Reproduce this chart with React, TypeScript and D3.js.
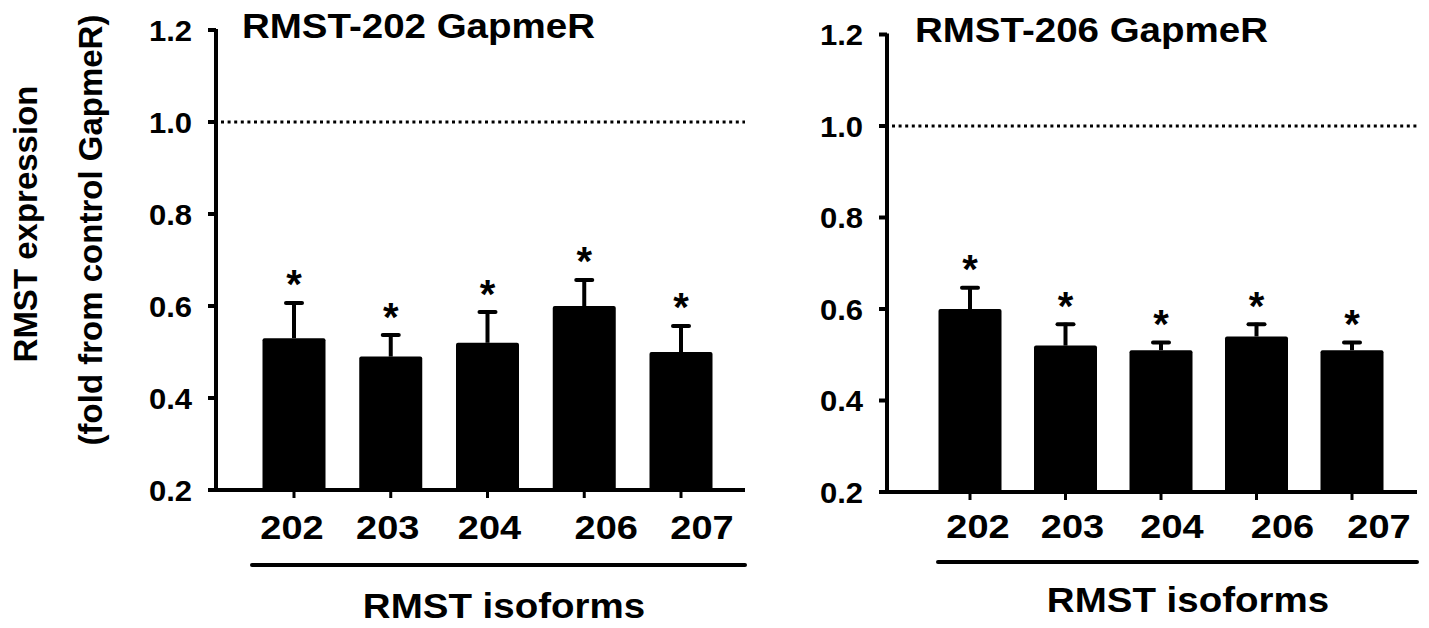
import * as d3 from "d3";

const CATEGORIES = ["202", "203", "204", "206", "207"];
const Y_TICKS = [0.2, 0.4, 0.6, 0.8, 1.0, 1.2];
const REFERENCE_LEVEL = 1.0;

// RMST-202 GapmeR knockdown
const KD202_MEAN = [0.53, 0.49, 0.52, 0.6, 0.5];
const KD202_SEM = [0.08, 0.05, 0.07, 0.06, 0.06];

// RMST-206 GapmeR knockdown
const KD206_MEAN = [0.6, 0.52, 0.51, 0.54, 0.51];
const KD206_SEM = [0.05, 0.05, 0.02, 0.03, 0.02];

const WIDTH = 1429;
const HEIGHT = 628;
const FONT = "'Liberation Sans', Arial, Helvetica, sans-serif";
const BAR_W = 63;

type Layout = {
    axisX: number;
    yTop: number;
    yBottom: number;
    firstTick: number;
    lastTick: number;
    xEnd: number;
    underline: { x1: number; x2: number; y: number };
    labelNudge: number[];
    labelY: number;
    xTitle: { x: number; y: number };
    title: { x: number; y: number };
};

const LEFT: Layout = {
    axisX: 216, yTop: 30, yBottom: 490, firstTick: 294, lastTick: 681, xEnd: 745,
    underline: { x1: 252, x2: 745, y: 565 },
    labelNudge: [-2, -3, 2, 22, 21], labelY: 539,
    xTitle: { x: 504, y: 618 }, title: { x: 242, y: 38 },
};

const RIGHT: Layout = {
    axisX: 887, yTop: 34.5, yBottom: 492, firstTick: 970, lastTick: 1352, xEnd: 1417,
    underline: { x1: 938, x2: 1417, y: 562 },
    labelNudge: [8, 7, 11, 26, 27], labelY: 538,
    xTitle: { x: 1188, y: 612 }, title: { x: 915, y: 42 },
};

// the figure is a little wider than the font, so stretch text horizontally
const SText = ({ x, y, size, anchor = "start", sx = 1.1, children }: any) => (
    <text
        transform={`translate(${x},${y}) scale(${sx},1)`}
        fontSize={size}
        fontWeight="bold"
        fontFamily={FONT}
        textAnchor={anchor}
        fill="#000"
    >
        {children}
    </text>
);

type PanelProps = { title: string; means: number[]; sems: number[]; L: Layout };

const Panel = ({ title, means, sems, L }: PanelProps) => {
    const yScale = d3.scaleLinear().domain([0.2, 1.2]).range([L.yBottom, L.yTop]);
    const xScale = d3.scalePoint<string>().domain(CATEGORIES).range([L.firstTick, L.lastTick]);
    const fmt = d3.format(".1f");
    const y0 = yScale(0.2);

    return (
        <g>
            {/* dotted control level */}
            <line
                x1={L.axisX + 5} x2={L.xEnd}
                y1={yScale(REFERENCE_LEVEL)} y2={yScale(REFERENCE_LEVEL)}
                stroke="#000" strokeWidth={3} strokeDasharray="3,3.6"
            />

            {/* bars + upper error bars */}
            {CATEGORIES.map((c, i) => {
                const cx = xScale(c)!;
                const top = yScale(means[i]);
                const errTop = yScale(means[i] + sems[i]);
                return (
                    <g key={c}>
                        <line x1={cx} x2={cx} y1={top} y2={errTop} stroke="#000" strokeWidth={4} />
                        <line x1={cx - 8} x2={cx + 8} y1={errTop + 1.5} y2={errTop + 1.5} stroke="#000" strokeWidth={4} strokeLinecap="round" />
                        <rect x={cx - BAR_W / 2} y={top} width={BAR_W} height={y0 - top} fill="#000" rx={2} />
                        <SText x={cx} y={errTop - 3} size={40} anchor="middle" sx={1}>*</SText>
                        <line x1={cx} x2={cx} y1={y0} y2={y0 + 8} stroke="#000" strokeWidth={3} />
                        <SText x={cx + L.labelNudge[i]} y={L.labelY} size={33} anchor="middle" sx={1.15}>{c}</SText>
                    </g>
                );
            })}

            {/* y axis */}
            <line x1={L.axisX} x2={L.axisX} y1={yScale(1.2) - 1} y2={y0 + 2} stroke="#000" strokeWidth={4} />
            {Y_TICKS.map((t) => (
                <g key={t}>
                    <line x1={L.axisX - 8} x2={L.axisX} y1={yScale(t)} y2={yScale(t)} stroke="#000" strokeWidth={4} />
                    <SText x={L.axisX - 24} y={yScale(t) + 10.5} size={29} anchor="end" sx={1.07}>{fmt(t)}</SText>
                </g>
            ))}

            {/* x axis */}
            <line x1={L.axisX - 8} x2={L.xEnd} y1={y0} y2={y0} stroke="#000" strokeWidth={4} />
            <line x1={L.underline.x1} x2={L.underline.x2} y1={L.underline.y} y2={L.underline.y} stroke="#000" strokeWidth={4} strokeLinecap="round" />
            <SText x={L.xTitle.x} y={L.xTitle.y} size={35} anchor="middle">RMST isoforms</SText>

            <SText x={L.title.x} y={L.title.y} size={35}>{title}</SText>
        </g>
    );
};

export default function App() {
    return (
        <svg
            width={WIDTH}
            height={HEIGHT}
            viewBox={`0 0 ${WIDTH} ${HEIGHT}`}
            style={{ position: "absolute", left: 0, top: 0, background: "#fff" }}
        >
            <rect width={WIDTH} height={HEIGHT} fill="#fff" />
            <text transform="translate(37,224) rotate(-90)" fontSize={33} fontWeight="bold" fontFamily={FONT} textAnchor="middle">
                RMST expression
            </text>
            <text transform="translate(102,230) rotate(-90)" fontSize={33} fontWeight="bold" fontFamily={FONT} textAnchor="middle">
                (fold from control GapmeR)
            </text>
            <Panel title="RMST-202 GapmeR" means={KD202_MEAN} sems={KD202_SEM} L={LEFT} />
            <Panel title="RMST-206 GapmeR" means={KD206_MEAN} sems={KD206_SEM} L={RIGHT} />
        </svg>
    );
}
